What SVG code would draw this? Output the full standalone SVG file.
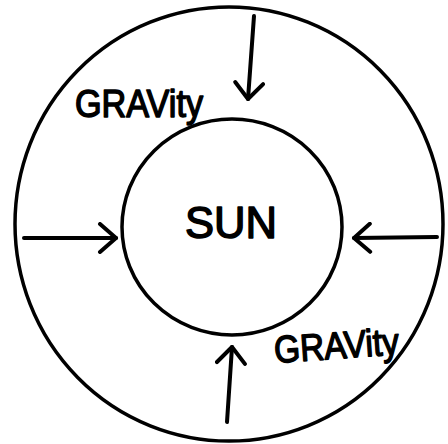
<svg xmlns="http://www.w3.org/2000/svg" width="448" height="444" viewBox="0 0 448 444">
  <style>
    .ring { fill: none; stroke: #000; stroke-width: 3.5; }
    .arrow { fill: none; stroke: #000; stroke-width: 4; stroke-linecap: round; marker-end: url(#vhead); }
    .hand { font-family: "Liberation Sans", Arial, sans-serif; fill: #000; stroke: #000; stroke-width: 1.5; stroke-linejoin: round; }
  </style>
  <defs>
    <marker id="vhead" viewBox="-22 -16 26 32" markerWidth="26" markerHeight="32" refX="0" refY="0" orient="auto" markerUnits="userSpaceOnUse">
      <path d="M-16,-14 L0,0 L-16,14" fill="none" stroke="#000" stroke-width="4" stroke-linecap="round" stroke-linejoin="round"/>
    </marker>
  </defs>
  <rect width="448" height="444" fill="#fff"/>
  <g id="orbit">
    <ellipse class="ring" cx="229" cy="224" rx="214" ry="217"/>
  </g>
  <g id="sun">
    <ellipse class="ring" cx="232" cy="227" rx="110" ry="108"/>
    <text class="hand" x="185" y="238" font-size="44" textLength="92" lengthAdjust="spacingAndGlyphs">SUN</text>
  </g>
  <g id="label-gravity-top">
    <text class="hand" x="75" y="117" font-size="38" textLength="128" lengthAdjust="spacingAndGlyphs">GRAVity</text>
  </g>
  <g id="label-gravity-bottom">
    <text class="hand" x="275" y="363" font-size="38" textLength="125" lengthAdjust="spacingAndGlyphs" transform="rotate(-4 275 363)">GRAVity</text>
  </g>
  <g id="connectors">
    <line class="arrow" x1="254" y1="16" x2="248" y2="99"/>
    <line class="arrow" x1="24" y1="238" x2="116" y2="238"/>
    <line class="arrow" x1="437" y1="237" x2="354" y2="238"/>
    <line class="arrow" x1="227" y1="422" x2="232" y2="347"/>
  </g>
</svg>
